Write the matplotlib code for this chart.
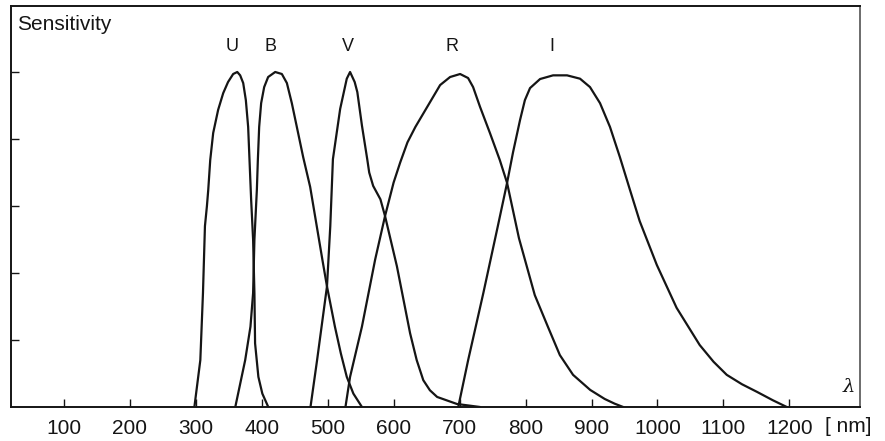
#!/usr/bin/env python3
"""UBVRI passband sensitivity curves."""

from __future__ import annotations

import matplotlib

matplotlib.use("Agg")
import matplotlib.pyplot as plt

# Wavelength [nm] and relative sensitivity for each passband
U_WL = [298, 307, 311, 314, 317, 319, 322, 326.5, 334, 341.7, 349, 356.8, 363, 367.4, 372, 376, 379.5,
        381.5, 384, 387, 389, 390, 395, 401, 410]
U_S = [0.0, 0.14, 0.34, 0.54, 0.60, 0.648, 0.737, 0.818, 0.887, 0.937, 0.97, 0.994, 1.0, 0.99, 0.967, 0.916, 0.836,
       0.74, 0.62, 0.50, 0.34, 0.19, 0.09, 0.04, 0.0]

B_WL = [360, 375, 383, 387, 389, 392.7, 394.2, 396.2, 399.2, 403.8, 409.8, 420.5, 430.6, 438.2, 445.7, 453.3,
        462.9, 473.5, 492, 499, 511, 520, 529, 539, 552]
B_S = [0.0, 0.14, 0.24, 0.34, 0.50, 0.648, 0.737, 0.836, 0.907, 0.955, 0.985, 1.0, 0.994, 0.967, 0.907, 0.836,
       0.746, 0.657, 0.44, 0.36, 0.24, 0.16, 0.09, 0.04, 0.0]

V_WL = [474, 484, 499, 504, 508, 519, 529, 534, 541, 545, 552, 560, 563, 569, 580, 587, 605, 625, 635, 645, 655,
        666, 696, 731]
V_S = [0.0, 0.14, 0.36, 0.54, 0.74, 0.89, 0.98, 1.0, 0.97, 0.94, 0.84, 0.74, 0.70, 0.66, 0.62, 0.57, 0.42, 0.22,
       0.14, 0.08, 0.05, 0.03, 0.009, 0.0]

R_WL = [527, 534, 552, 572, 587, 600, 610, 621, 633, 651, 670.5, 685.6, 700.8, 712.9, 720.5, 731, 746, 761, 772,
        790, 814, 834, 852, 872, 898, 920, 935, 948]
R_S = [0.0, 0.09, 0.24, 0.44, 0.57, 0.67, 0.73, 0.79, 0.836, 0.896, 0.961, 0.985, 0.994, 0.982, 0.955, 0.896,
       0.818, 0.737, 0.669, 0.504, 0.334, 0.239, 0.155, 0.096, 0.051, 0.024, 0.01, 0.0]

I_WL = [698, 713, 736, 758, 772, 781, 791.7, 799, 806.8, 822, 841.7, 862.9, 882.6, 897.7, 912.9, 928, 943, 958,
        973, 999, 1029, 1064, 1085, 1105, 1128, 1151, 1175, 1196]
I_S = [0.0, 0.14, 0.34, 0.54, 0.669, 0.76, 0.857, 0.916, 0.952, 0.979, 0.99, 0.99, 0.98, 0.955, 0.907, 0.836,
       0.746, 0.65, 0.555, 0.424, 0.296, 0.185, 0.135, 0.096, 0.068, 0.045, 0.02, 0.0]

BANDS = ["U", "B", "V", "R", "I"]
BAND_LABEL_WL = [355, 413, 530, 688, 840]
X_TICKS = [100, 200, 300, 400, 500, 600, 700, 800, 900, 1000, 1100, 1200]
Y_TICKS = [0.2, 0.4, 0.6, 0.8, 1.0]

INK = "#151515"


def main() -> int:
    plt.rcParams["font.family"] = ["Liberation Sans", "DejaVu Sans"]
    fig = plt.figure(figsize=(8.85, 4.41), dpi=100)
    ax = fig.add_axes([11 / 885, 34 / 441, 849 / 885, 401 / 441])

    curves = [(U_WL, U_S), (B_WL, B_S), (V_WL, V_S), (R_WL, R_S), (I_WL, I_S)]
    for wl, s in curves:
        ax.plot(wl, s, color=INK, lw=1.6, solid_joinstyle="round", solid_capstyle="round")

    for name, wl in zip(BANDS, BAND_LABEL_WL):
        ax.text(wl, 1.075, name, ha="center", va="center", fontsize=13, color=INK)

    ax.set_xlim(20, 1307)
    ax.set_ylim(0, 1.197)
    ax.set_xticks(X_TICKS)
    ax.set_xticklabels([str(t) for t in X_TICKS])
    ax.set_yticks(Y_TICKS)
    ax.set_yticklabels([])
    ax.tick_params(axis="x", direction="in", length=6, width=1.0, pad=9, labelsize=15, colors=INK)
    ax.tick_params(axis="y", direction="in", length=6, width=1.0, colors=INK)

    for side in ("left", "bottom", "top"):
        ax.spines[side].set_linewidth(1.4)
        ax.spines[side].set_color(INK)
    ax.spines["right"].set_linewidth(1.1)
    ax.spines["right"].set_color("#444444")

    ax.text(0.007, 0.955, "Sensitivity", transform=ax.transAxes, ha="left", va="center",
            fontsize=15, color=INK)
    ax.text(1290, 0.06, "λ", ha="center", va="center", fontsize=14, color=INK,
            family="DejaVu Serif", style="italic")
    fig.text(848 / 885, 1 - 427 / 441, "[ nm]", ha="center", va="center", fontsize=15, color=INK)

    fig.savefig("out.png", dpi=100, facecolor="white")
    plt.close(fig)
    return 0


if __name__ == "__main__":
    raise SystemExit(main())
